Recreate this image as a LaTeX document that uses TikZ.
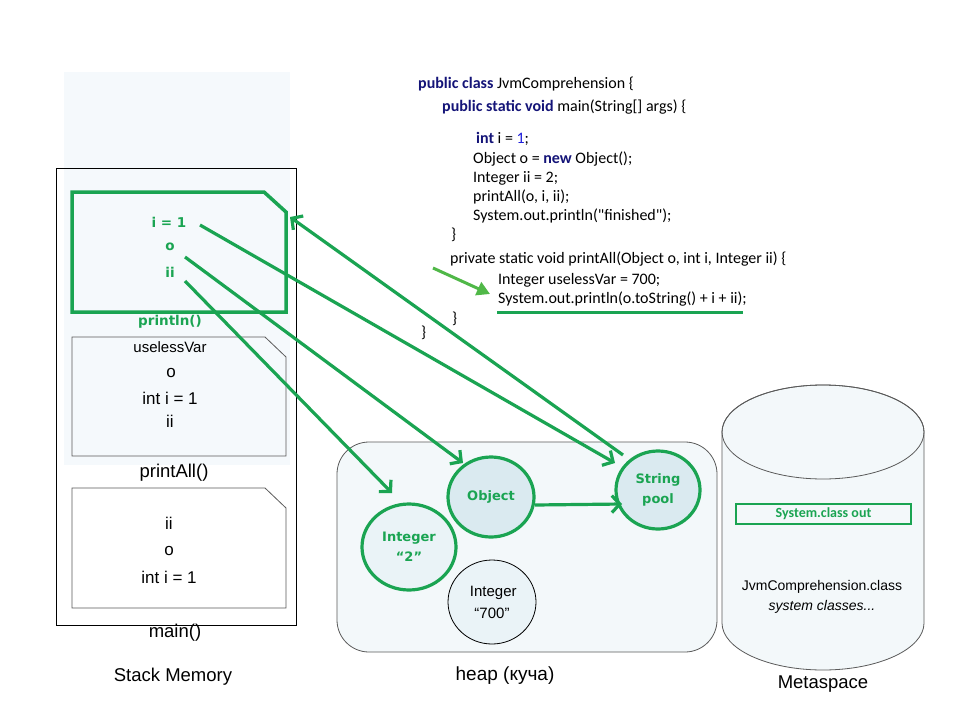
\documentclass[tikz,border=0pt]{standalone}
\usepackage{fontspec}
\setmainfont{Liberation Sans}
\newfontfamily\codefont{Carlito}
\newfontfamily\dvfont{DejaVu Sans}
\usetikzlibrary{arrows.meta,shapes.geometric}
\definecolor{G}{RGB}{26,164,82}
\definecolor{LG}{RGB}{80,184,72}
\definecolor{kwblue}{RGB}{20,20,120}
\definecolor{numblue}{RGB}{30,30,220}
\definecolor{stackbg}{RGB}{245,249,252}
\definecolor{heapbg}{RGB}{243,248,250}
\definecolor{cfill}{RGB}{218,234,240}
\definecolor{cfillb}{RGB}{234,243,247}
\definecolor{frameline}{RGB}{90,90,90}
\newcommand{\kw}[1]{\textcolor{kwblue}{\bfseries #1}}
\tikzset{
  codeline/.style={anchor=base west, inner sep=0pt, font=\codefont\fontsize{16}{19}\selectfont},
  glabel/.style={inner sep=0pt, text=G, font=\dvfont\bfseries\fontsize{13.5}{16}\selectfont},
  slabel/.style={inner sep=0pt, font=\fontsize{17}{20}\selectfont},
  biglabel/.style={inner sep=0pt, font=\fontsize{18.5}{21}\selectfont},
  gcirc/.style={ellipse, draw=G, line width=3.2pt, inner sep=0pt, text=G, align=center,
    font=\dvfont\bfseries\fontsize{13}{20}\selectfont},
  bcirc/.style={ellipse, draw=black, line width=0.8pt, inner sep=0pt, align=center, fill=cfillb,
    font=\fontsize{15}{22}\selectfont},
  garrow/.style={draw=G, line width=3.2pt, -{Straight Barb[length=8pt,width=17pt]}},
  framebox/.style={draw=frameline, line width=0.8pt},
}
\begin{document}
\begin{tikzpicture}[x=1pt,y=-1pt]
\useasboundingbox (0,0) rectangle (960,720);
\fill[white] (0,0) rectangle (960,720);

% ---------------- Stack memory ----------------
\fill[stackbg] (64,72) rectangle (290,465);
\draw[black, line width=1pt] (56,168) rectangle (296,625);
\draw[G, line width=3.5pt, line join=miter] (72,192) -- (264,192) -- (286,212) -- (286,312) -- (72,312) -- cycle;
\draw[framebox, fill=stackbg] (72,337) -- (265,337) -- (286,357) -- (286,456) -- (72,456) -- cycle;
\draw[framebox, fill=white] (72,488) -- (265,488) -- (286,508) -- (286,608) -- (72,608) -- cycle;

\node[glabel] (vi) at (169,222) {i = 1};
\node[glabel] (vo) at (170,247) {o};
\node[glabel] (vii) at (170,272) {ii};
\node[glabel] (println) at (170,322) {println()};

\node[inner sep=0pt, font=\fontsize{15}{18}\selectfont] (pauv) at (170,347) {uselessVar};
\node[slabel] (pao) at (171,373) {o};
\node[slabel] (pai) at (170,398) {int i = 1};
\node[slabel] (paii) at (170,421) {ii};
\node[biglabel] (printall) at (174,473) {printAll()};

\node[slabel] (mii) at (169,523) {ii};
\node[slabel] (mo) at (169,551) {o};
\node[slabel] (mi) at (169,577) {int i = 1};
\node[biglabel] (mainlbl) at (175,633) {main()};
\node[biglabel] (stacklbl) at (173,677) {Stack Memory};

% ---------------- Code ----------------
\node[codeline] (c1) at (418,88) {\kw{public class} JvmComprehension \{};
\node[codeline] (c2) at (442,111) {\kw{public static void} main(String[] args) \{};
\node[codeline] (c3) at (476,143) {\kw{int} i = \textcolor{numblue}{1};};
\node[codeline] (c4) at (473,163) {Object o = \kw{new} Object();};
\node[codeline] (c5) at (473,182) {Integer ii = 2;};
\node[codeline] (c6) at (473,201) {printAll(o, i, ii);};
\node[codeline] (c7) at (473,220) {System.out.println("finished");};
\node[codeline] (c8) at (451,239) {\}};
\node[codeline] (c9) at (450,263) {private static void printAll(Object o, int i, Integer ii) \{};
\node[codeline] (c10) at (498,284) {Integer uselessVar = 700;};
\node[codeline] (c11) at (498,303) {System.out.println(o.toString() + i + ii);};
\node[codeline] (c12) at (452,323) {\}};
\node[codeline] (c13) at (421,337) {\}};

\coordinate (ulA) at (497,312);
\coordinate (ulB) at (743,312);
\draw[G, line width=3pt] (ulA) -- (ulB);
\coordinate (pA) at (433,268);
\coordinate (pB) at (490,294);
\draw[LG, line width=3pt, -{Triangle[length=13pt,width=14pt]}] (pA) -- (pB);

% ---------------- Heap ----------------
\draw[frameline, line width=0.8pt, fill=heapbg, rounded corners=32pt] (337,442) rectangle (717,652);
\node[gcirc, fill=cfillb, minimum width=94pt, minimum height=86pt] (int2) at (409,547) {Integer\\“2”};
\node[gcirc, fill=cfill, minimum width=86pt, minimum height=80pt] (obj) at (491,497) {Object};
\node[gcirc, fill=cfill, minimum width=84pt, minimum height=78pt] (spool) at (658,490) {String\\pool};
\node[bcirc, minimum width=88pt, minimum height=84pt] (int700) at (492,602) {\,Integer\\“700”};
\node[inner sep=0pt, font=\fontsize{19}{22}\selectfont] (heaplbl) at (505,676) {heap (куча)};

% ---------------- Metaspace ----------------
\draw[frameline, line width=0.8pt, fill=heapbg] (722,432) -- (722,623)
  arc[start angle=180, end angle=360, x radius=101pt, y radius=47pt] -- (924,432)
  arc[start angle=0, end angle=180, x radius=101pt, y radius=47pt] -- cycle;
\draw[frameline, line width=0.8pt] (823,432) ellipse [x radius=101pt, y radius=47pt];
\node[draw=G, line width=2pt, minimum width=175pt, minimum height=20pt, inner sep=0pt,
  text=G, font=\codefont\bfseries\fontsize{14}{16}\selectfont] (sysout) at (823.5,514) {System.class out};
\node[inner sep=0pt, font=\fontsize{14}{17}\selectfont] (jvmcls) at (822,587) {JvmComprehension.class};
\node[inner sep=0pt, font=\itshape\fontsize{14}{17}\selectfont] (syscls) at (822,607) {system classes...};
\node[biglabel] (metalbl) at (823,684) {Metaspace};

% ---------------- Connectors ----------------
\coordinate (iout) at (200,225);
\coordinate (oout) at (185,257);
\coordinate (iiout) at (185,281);
\coordinate (spin) at (615,463);
\coordinate (objin) at (463,463);
\coordinate (intin) at (392,493);
\coordinate (spout) at (623,455);
\coordinate (framein) at (290,217);
\coordinate (objout) at (535,505);
\coordinate (spin2) at (622,504);
\draw[garrow] (iout) -- (spin);
\draw[garrow] (oout) -- (objin);
\draw[garrow] (iiout) -- (intin);
\draw[garrow] (spout) -- (framein);
\draw[garrow] (objout) -- (spin2);
\end{tikzpicture}
\end{document}
